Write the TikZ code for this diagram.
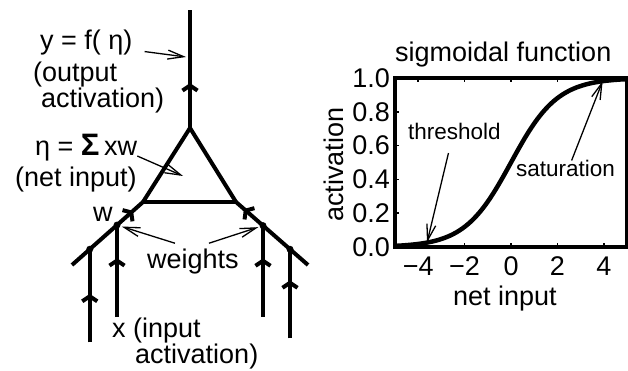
\documentclass[tikz,border=0pt]{standalone}
\usepackage{fontspec}
\setmainfont{Liberation Sans}
\usetikzlibrary{arrows.meta,decorations.markings,calc}

\begin{document}
\begin{tikzpicture}[
        x=1pt, y=-1pt,
        font=\fontsize{27}{32}\selectfont,
        % Толстые линии нейрона
        wire/.style={
            line width=4pt
        },
        % Шеврон на линии (направление сигнала)
        flow/.style={
            postaction={decorate},
            decoration={markings,
                mark=at position #1 with {\arrow{Straight Barb[length=5pt,width=15pt]}}}
        },
        % Тонкие стрелки-указатели
        note/.style={
            line width=1.3pt,
            -{Straight Barb[length=16pt,width=9pt]}
        },
        % Стиль для текстовых меток
        label style/.style={
            inner sep=0pt,
            anchor=base west
        },
        small label/.style={
            label style,
            font=\fontsize{22.5}{27}\selectfont
        },
        % Точки весов
        weight/.style={
            circle, fill, inner sep=0pt, minimum size=7pt
        }
    ]
    \useasboundingbox (0,0) rectangle (628,371);

        % Опорные точки нейрона
        \coordinate (top) at (190,10);
        \coordinate (apex) at (190,128);
        \coordinate (left) at (143,202);
        \coordinate (right) at (236,202);
        \coordinate (left end) at (72,265);
        \coordinate (right end) at (308,265);

        % Выход и треугольник
        \draw[wire, flow=0.38] (apex) -- (top);
        \draw[wire] (left) -- (apex) -- (right);
        \draw[line width=3.5pt] (left) -- (right);

        % Входные диагонали
        \draw[wire, flow=0.86] (left end) -- (left);
        \draw[wire, flow=0.89] (right end) -- (right);

        % Точки соединения входов
        \coordinate (j1) at ($(left end)!0.25!(left)$);
        \coordinate (j2) at ($(left end)!0.634!(left)$);
        \coordinate (j3) at ($(right end)!0.625!(right)$);
        \coordinate (j4) at ($(right end)!0.25!(right)$);
        \coordinate (b1) at ($(j1)+(0,93)$);
        \coordinate (b2) at ($(j2)+(0,92)$);
        \coordinate (b3) at ($(j3)+(0,91)$);
        \coordinate (b4) at ($(j4)+(0,89)$);

        % Входные линии
        \draw[wire, flow=0.52] (b1) -- (j1);
        \draw[wire, flow=0.64] (b2) -- (j2);
        \draw[wire, flow=0.64] (b3) -- (j3);
        \draw[wire, flow=0.65] (b4) -- (j4);
        \foreach \j in {j1,j2,j3,j4}
            \node[weight] (dot \j) at (\j) {};

        % Подписи нейрона
        \node[label style] (output) at (40,50) {y = f( η)};
        \node[label style] (output2) at (33,82) {(output};
        \node[label style] (output3) at (41,108) {activation)};
        \node[label style] (eta) at (35,156) {η = {\fontsize{31}{32}\selectfont\bfseries Σ}\,xw};
        \node[label style] (eta2) at (15,187) {(net input)};
        \node[label style] (w) at (93,222) {w};
        \node[label style] (weights) at (147,268) {weights};
        \node[label style] (input) at (112,337) {x (input};
        \node[label style] (input2) at (135,363) {activation)};

        % Указатели
        \coordinate (out pt) at (186,57);
        \coordinate (sum pt) at (183,176);
        \draw[note, shorten <=12pt] (output.base east) -- (out pt);
        \draw[note] (eta.base east) -- (sum pt);
        \draw[note, shorten >=5pt] ([xshift=28pt,yshift=5pt]weights.north west) -- (j2);
        \draw[note, shorten >=5pt] ([xshift=-30pt,yshift=5pt]weights.north east) -- (j3);

        % График сигмоиды
        \begin{scope}[shift={(511,247)}, x=23.2pt, y=169pt]
            \draw[line width=3.5pt] (-5,0) rectangle (5,1);
            \foreach \t in {-4,-2,0,2,4} {
                \draw[line width=1.5pt] (\t,0) -- ++(0,4pt);
                \draw[line width=1.5pt] (\t,1) -- ++(0,-4pt);
            }
            \foreach \v in {0.2,0.4,0.6,0.8}
                \draw[line width=1.5pt] (-5,\v) -- ++(4pt,0);
            \foreach \v [count=\i] in {0.0,0.2,0.4,0.6,0.8,1.0}
                \node[anchor=east, inner sep=0pt, xshift=-5pt] (ytick\i) at (-5,\v) {\v};
            \foreach \t/\s [count=\i] in {-4/−4,-2/−2,0/0,2/2,4/4}
                \node[anchor=base, inner sep=0pt, yshift=-28pt] (xtick\i) at (\t,0) {\s};
            \draw[line width=4.5pt] plot[domain=-5:5, samples=80, smooth] (\x, {1/(1+exp(-\x))});
            \coordinate (thr) at (-3.62, {1/(1+exp(3.62))});
            \coordinate (sat) at (3.95, {1/(1+exp(-3.95))});
        \end{scope}

        % Подписи графика
        \node[label style] (title) at (395,62) {sigmoidal function};
        \node[label style] (xlabel) at (453,305) {net input};
        \node[label style, rotate=90] (ylabel) at (343,222) {activation};
        \node[small label] (threshold) at (408,140) {threshold};
        \node[small label] (saturation) at (516,177) {saturation};
        \draw[note] ([xshift=-6pt,yshift=-13pt]threshold.base) -- (thr);
        \draw[note] ([xshift=6pt]saturation.north) -- (sat);

    \end{tikzpicture}
\end{document}
